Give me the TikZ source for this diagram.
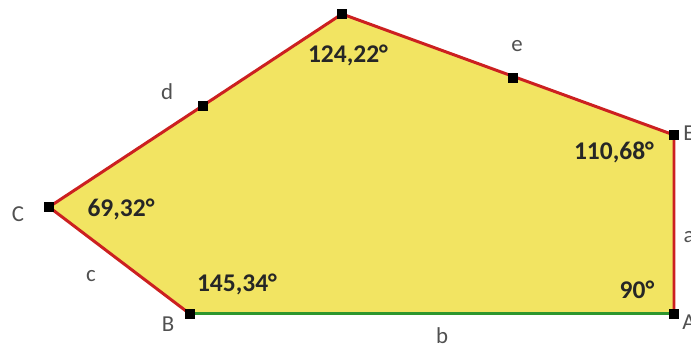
\documentclass[tikz,border=0pt]{standalone}
\usepackage{fontspec}
\setmainfont{Carlito}
\usetikzlibrary{positioning}

\definecolor{polyfill}{RGB}{242,228,98}
\definecolor{edgered}{RGB}{204,32,32}
\definecolor{edgegreen}{RGB}{46,150,46}
\definecolor{labelgray}{RGB}{80,80,80}

\tikzset{
  vtx/.style={fill=black, minimum size=0.2cm, inner sep=0pt},
  sidelbl/.style={text=labelgray, font=\fontsize{13}{15}\selectfont},
  anglbl/.style={text=black!85, font=\bfseries\fontsize{14.5}{17}\selectfont},
  rededge/.style={edgered, line width=1.7pt},
  greenedge/.style={edgegreen, line width=1.7pt}
}

\begin{document}
\begin{tikzpicture}[x=0.02cm, y=-0.02cm]
      \useasboundingbox (0,0) rectangle (691,350);
      % corners of the pentagon
      \coordinate (pA) at (674,314);
      \coordinate (pB) at (190,314);
      \coordinate (pC) at (49,207);
      \coordinate (pD) at (342,14);
      \coordinate (pE) at (674,135);
      % yellow area
      \fill[polyfill] (pA) -- (pB) -- (pC) -- (pD) -- (pE) -- cycle;
      % sides
      \draw[greenedge] (pB) -- (pA);
      \draw[rededge] (pB) -- (pC) -- (pD) -- (pE) -- (pA);
      % corner marks
      \node[vtx] (A) at (pA) {};
      \node[vtx] (B) at (pB) {};
      \node[vtx] (C) at (pC) {};
      \node[vtx] (D) at (pD) {};
      \node[vtx] (E) at (pE) {};
      % midpoints on d and e
      \node[vtx] (Md) at (203,106) {};
      \node[vtx] (Me) at (513,78) {};
      % point names
      \node[sidelbl] (lA) at (689,322) {A};
      \node[sidelbl] (lB) at (168,324) {B};
      \node[sidelbl] (lC) at (18,214) {C};
      \node[sidelbl] (lE) at (689,133) {E};
      % side names
      \node[sidelbl] (la) at (689,237) {a};
      \node[sidelbl] (lb) at (442,336) {b};
      \node[sidelbl] (lc) at (91,276) {c};
      \node[sidelbl] (ld) at (167,92) {d};
      \node[sidelbl] (le) at (517,46) {e};
      % angles
      \node[anglbl] (wD) at (348,55) {124,22°};
      \node[anglbl] (wE) at (614,152) {110,68°};
      \node[anglbl] (wC) at (121,209) {69,32°};
      \node[anglbl] (wB) at (237,284) {145,34°};
      \node[anglbl] (wA) at (637,290) {90°};
\end{tikzpicture}
\end{document}
